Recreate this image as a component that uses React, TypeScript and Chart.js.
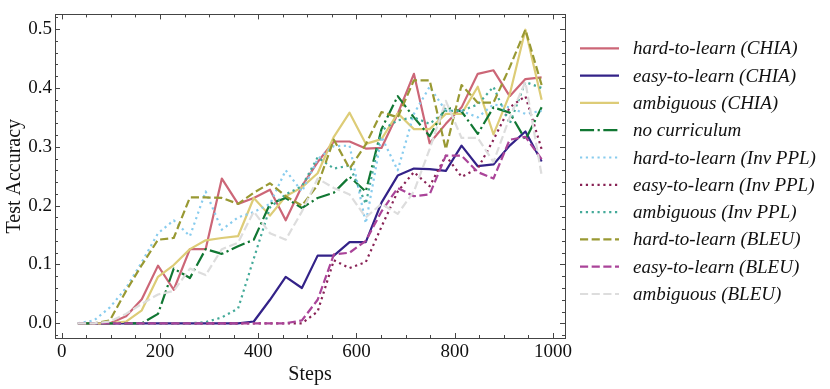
import { useEffect, useRef } from 'react';
import { Chart, registerables } from 'chart.js';

Chart.register(...registerables);

const steps = [33, 66, 98, 131, 163, 196, 228, 261, 293, 326, 359, 391, 424, 456, 489, 521, 554, 586, 619, 651, 684, 717, 749, 782, 814, 847, 879, 912, 944, 977];

const hardCHIA = [0, 0, 0, 0.012, 0.041, 0.098, 0.057, 0.126, 0.126, 0.246, 0.203, 0.213, 0.227, 0.175, 0.233, 0.274, 0.309, 0.309, 0.297, 0.298, 0.356, 0.424, 0.306, 0.339, 0.367, 0.424, 0.43, 0.386, 0.415, 0.418];
const easyCHIA = [0, 0, 0, 0, 0, 0, 0, 0, 0, 0, 0, 0.003, 0.04, 0.079, 0.06, 0.115, 0.115, 0.138, 0.138, 0.205, 0.251, 0.263, 0.262, 0.259, 0.302, 0.267, 0.27, 0.302, 0.326, 0.275];
const ambCHIA = [0, 0, 0, 0.003, 0.022, 0.079, 0.099, 0.126, 0.141, 0.145, 0.148, 0.213, 0.183, 0.216, 0.231, 0.255, 0.317, 0.358, 0.305, 0.313, 0.357, 0.33, 0.33, 0.356, 0.356, 0.402, 0.321, 0.389, 0.499, 0.38];
const noCurriculum = [0, 0, 0, 0, 0, 0.016, 0.093, 0.077, 0.126, 0.118, 0.131, 0.142, 0.203, 0.213, 0.196, 0.213, 0.222, 0.249, 0.224, 0.33, 0.386, 0.35, 0.318, 0.367, 0.36, 0.322, 0.367, 0.358, 0.312, 0.367];
const hardPPL = [0, 0.005, 0.027, 0.06, 0.104, 0.153, 0.175, 0.148, 0.224, 0.159, 0.18, 0.189, 0.203, 0.26, 0.224, 0.279, 0.301, 0.302, 0.17, 0.317, 0.26, 0.356, 0.402, 0.361, 0.361, 0.35, 0.372, 0.367, 0.356, 0.361];
const easyPPL = [0, 0, 0, 0, 0, 0, 0, 0, 0, 0, 0, 0, 0, 0, 0, 0.02, 0.107, 0.094, 0.104, 0.164, 0.224, 0.257, 0.233, 0.285, 0.249, 0.263, 0.312, 0.367, 0.386, 0.296];
const ambPPL = [0, 0, 0, 0, 0, 0, 0, 0, 0.002, 0.01, 0.025, 0.11, 0.197, 0.219, 0.233, 0.282, 0.263, 0.268, 0.203, 0.328, 0.345, 0.35, 0.339, 0.361, 0.361, 0.372, 0.402, 0.339, 0.41, 0.4];
const hardBLEU = [0, 0, 0.005, 0.055, 0.099, 0.142, 0.145, 0.214, 0.214, 0.213, 0.203, 0.222, 0.238, 0.216, 0.2, 0.235, 0.312, 0.263, 0.304, 0.359, 0.35, 0.413, 0.413, 0.296, 0.405, 0.375, 0.375, 0.435, 0.499, 0.405];
const easyBLEU = [0, 0, 0, 0, 0, 0, 0, 0, 0, 0, 0, 0, 0, 0, 0.005, 0.04, 0.117, 0.12, 0.14, 0.19, 0.23, 0.216, 0.219, 0.285, 0.285, 0.257, 0.246, 0.312, 0.317, 0.279];
const ambBLEU = [0, 0, 0.003, 0.016, 0.033, 0.049, 0.055, 0.093, 0.082, 0.126, 0.137, 0.19, 0.153, 0.142, 0.19, 0.246, 0.23, 0.219, 0.18, 0.203, 0.186, 0.224, 0.296, 0.378, 0.315, 0.315, 0.274, 0.35, 0.41, 0.252];

const seriesLabels = [
  'hard-to-learn (CHIA)',
  'easy-to-learn (CHIA)',
  'ambiguous (CHIA)',
  'no curriculum',
  'hard-to-learn (Inv PPL)',
  'easy-to-learn (Inv PPL)',
  'ambiguous (Inv PPL)',
  'hard-to-learn (BLEU)',
  'easy-to-learn (BLEU)',
  'ambiguous (BLEU)',
];
const seriesValues = [hardCHIA, easyCHIA, ambCHIA, noCurriculum, hardPPL, easyPPL, ambPPL, hardBLEU, easyBLEU, ambBLEU];
const seriesColors = ['#CC6677', '#332288', '#DDCC77', '#117733', '#88CCEE', '#882255', '#44AA99', '#999933', '#AA4499', '#DDDDDD'];
const seriesStyles = ['solid', 'solid', 'solid', 'dashdot', 'dotted', 'dotted', 'dotted', 'dashed', 'dashed', 'dashed'];

const xTicks = [0, 200, 400, 600, 800, 1000];
const yTicks = [0, 0.1, 0.2, 0.3, 0.4, 0.5];

const LW = 2.2;
const dashFor = (s: string): number[] => {
  if (s === 'dashed') return [3.7 * LW, 1.6 * LW];
  if (s === 'dotted') return [1 * LW, 1.65 * LW];
  if (s === 'dashdot') return [6.4 * LW, 1.6 * LW, 1 * LW, 1.6 * LW];
  return [];
};

const FONT = '"Liberation Serif", "Times New Roman", serif';

const decorPlugin = {
  id: 'decor',
  afterDraw(chart: any) {
    const { ctx, chartArea } = chart;
    const xs = chart.scales.x;
    const ys = chart.scales.y;
    const { left, right, top, bottom } = chartArea;
    ctx.save();
    ctx.strokeStyle = '#444';
    ctx.lineWidth = 1;
    ctx.setLineDash([]);
    ctx.strokeRect(Math.round(left) + 0.5, Math.round(top) + 0.5, Math.round(right - left), Math.round(bottom - top));
    const tick = (x1: number, y1: number, x2: number, y2: number) => {
      ctx.beginPath();
      ctx.moveTo(x1, y1);
      ctx.lineTo(x2, y2);
      ctx.stroke();
    };
    for (let v = 0; v <= 1000; v += 50) {
      const px = Math.round(xs.getPixelForValue(v)) + 0.5;
      const len = v % 200 === 0 ? 5 : 3;
      tick(px, bottom, px, bottom - len);
      tick(px, top, px, top + len);
    }
    for (let i = -1; i <= 26; i++) {
      const v = i * 0.02;
      const py = Math.round(ys.getPixelForValue(v)) + 0.5;
      if (py < top || py > bottom) continue;
      const len = i % 5 === 0 ? 5 : 3;
      tick(left, py, left + len, py);
      tick(right, py, right - len, py);
    }
    const lx0 = 580;
    const lx1 = 619;
    const tx = 633;
    const y0 = 48.3;
    const dy = 27.3;
    ctx.font = 'italic 19px ' + FONT;
    ctx.textBaseline = 'middle';
    ctx.textAlign = 'left';
    seriesLabels.forEach((lab, i) => {
      const y = y0 + i * dy;
      ctx.strokeStyle = seriesColors[i];
      ctx.lineWidth = LW;
      ctx.setLineDash(dashFor(seriesStyles[i]));
      ctx.beginPath();
      ctx.moveTo(lx0, y);
      ctx.lineTo(lx1, y);
      ctx.stroke();
      ctx.setLineDash([]);
      ctx.fillStyle = '#111';
      ctx.fillText(lab, tx, y + 1);
    });
    ctx.restore();
  },
};

export default function App() {
  const ref = useRef<HTMLCanvasElement>(null);
  useEffect(() => {
    const canvas = ref.current;
    if (!canvas) return;
    const datasets = seriesLabels.map((label, i) => ({
      label,
      data: steps.map((s, j) => ({ x: s, y: seriesValues[i][j] })),
      borderColor: seriesColors[i],
      backgroundColor: seriesColors[i],
      borderWidth: LW,
      borderDash: dashFor(seriesStyles[i]),
      borderCapStyle: 'butt' as const,
      borderJoinStyle: 'round' as const,
      pointRadius: 0,
      tension: 0,
      fill: false,
      order: 20 - i,
    }));
    const chart = new Chart(canvas, {
      type: 'line',
      data: { datasets },
      options: {
        animation: false,
        responsive: false,
        maintainAspectRatio: false,
        devicePixelRatio: 1,
        layout: { padding: { left: 0, top: 5, right: 265, bottom: 0 } },
        plugins: { legend: { display: false }, tooltip: { enabled: false } },
        scales: {
          x: {
            type: 'linear',
            min: -13.7,
            max: 1024.6,
            afterBuildTicks: (s: any) => {
              s.ticks = xTicks.map((v) => ({ value: v }));
            },
            afterFit: (s: any) => {
              s.height = 51;
            },
            grid: { display: false, drawTicks: false },
            border: { display: false },
            ticks: {
              color: '#111',
              padding: 3,
              maxRotation: 0,
              autoSkip: false,
              font: { family: FONT, size: 19 },
              callback: (v: any) => String(v),
            },
            title: {
              display: true,
              text: 'Steps',
              color: '#111',
              font: { family: FONT, size: 20 },
              padding: { top: 0, bottom: 2 },
            },
          },
          y: {
            type: 'linear',
            min: -0.025,
            max: 0.525,
            afterBuildTicks: (s: any) => {
              s.ticks = yTicks.map((v) => ({ value: v }));
            },
            afterFit: (s: any) => {
              s.width = 55;
            },
            grid: { display: false, drawTicks: false },
            border: { display: false },
            ticks: {
              color: '#111',
              padding: 3,
              autoSkip: false,
              font: { family: FONT, size: 19 },
              callback: (v: any) => Number(v).toFixed(1),
            },
            title: {
              display: true,
              text: 'Test Accuracy',
              color: '#111',
              font: { family: FONT, size: 20 },
              padding: { top: 3, bottom: 0 },
            },
          },
        },
      },
      plugins: [decorPlugin],
    });
    return () => chart.destroy();
  }, []);
  return (
    <div style={{ position: 'fixed', left: 0, top: 0, width: 830, height: 389, background: '#fff' }}>
      <canvas ref={ref} width={830} height={389} style={{ width: 830, height: 389, display: 'block' }} />
    </div>
  );
}
